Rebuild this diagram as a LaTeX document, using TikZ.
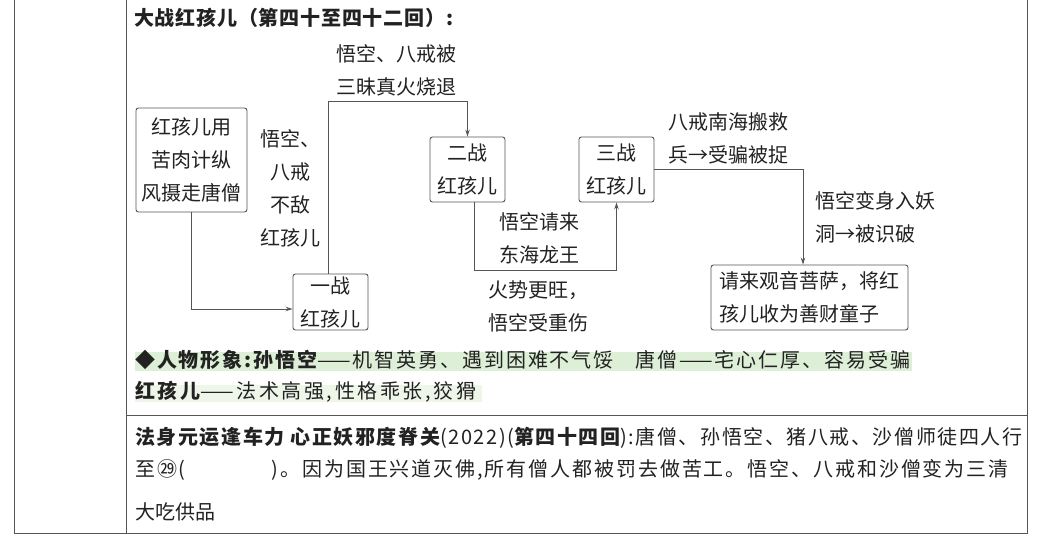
\documentclass[tikz,border=0pt]{standalone}
\usepackage{fontspec}
\setmainfont{Noto Sans CJK SC}
\usetikzlibrary{arrows.meta,calc}
\definecolor{ln}{HTML}{555555}
\definecolor{tx}{HTML}{222222}
\definecolor{hl}{HTML}{DDEFD6}
\definecolor{hlb}{HTML}{EEF6EA}
\begin{document}
\begin{tikzpicture}[x=1pt,y=-1pt,
  every node/.style={text=tx, font=\fontsize{20}{33}\selectfont, inner sep=0pt},
  box/.style={draw=ln, line width=0.9pt, rounded corners=2.5pt, align=center},
  lbl/.style={align=left},
  clbl/.style={align=center},
  conn/.style={draw=ln, line width=0.9pt, -{Stealth[length=7pt,width=4.5pt]}},
  frame/.style={draw=ln, line width=1pt},
  sp/.style={font=\addfontfeatures{LetterSpace=#1}\fontsize{20}{33}\selectfont}]
\useasboundingbox[fill=white] (0,0) rectangle (1042,545);

% frame
\draw[frame] (14,0) -- (14,533) -- (1027,533) -- (1027,0);
\draw[frame] (126,0) -- (126,533);
\draw[frame] (126,415) -- (1027,415);

% highlights
\fill[hl] (135,352) rectangle (912,371);
\fill[hlb] (135,385) rectangle (482,402);

% title
\node[anchor=west, font=\addfontfeatures{LetterSpace=4}\bfseries\fontsize{20}{24}\selectfont] (title) at (134,18) {大战红孩儿（第四十至四十二回）:};

% boxes
\node[box, minimum width=111pt, minimum height=104pt] (A) at (191.5,160) {红孩儿用\\苦肉计纵\\风摄走唐僧};
\node[box, minimum width=75pt, minimum height=56pt] (yi) at (330.5,302) {一战\\红孩儿};
\node[box, minimum width=75pt, minimum height=65pt] (er) at (467.5,169.5) {二战\\红孩儿};
\node[box, minimum width=75pt, minimum height=65pt] (san) at (616.5,169.5) {三战\\红孩儿};
\node[box, align=left, minimum width=197pt, minimum height=65pt] (fin) at (809.5,297.5) {请来观音菩萨，将红\\孩儿收为善财童子\hspace{20pt}};

% connectors
\draw[conn] (A.south) |- ([yshift=-7pt]yi.west);
\draw[conn] ([xshift=-2.5pt]yi.north) -- ++(0,-172) -| (er.north);
\draw[conn] ([xshift=6.5pt]er.south) -- ++(0,68) -| (san.south);
\draw[conn] (san.east) -| ([xshift=-6.5pt]fin.north);

% labels
\node[lbl] (l1) at (396.5,70.5) {悟空、八戒被\\三昧真火烧退};
\node[clbl] (l2) at (290,188.5) {悟空、\\八戒\\不敌\\红孩儿};
\node[lbl] (l3) at (539,238.5) {悟空请来\\东海龙王};
\node[lbl] (l4) at (538,306.5) {火势更旺，\\悟空受重伤};
\node[lbl] (l5) at (728.5,138) {八戒南海搬救\\兵→受骗被捉};
\node[lbl] (l6) at (875,217) {悟空变身入妖\\洞→被识破\hspace{20pt}};

% character traits
\node[anchor=west, sp=9.5] (t1) at (135,360) {{\bfseries ◆人物形象:孙悟空}——机智英勇、遇到困难不气馁\hspace{22pt}唐僧——宅心仁厚、容易受骗};
\node[anchor=west, sp=13] (t2) at (135,392) {{\bfseries 红孩儿}——法术高强,性格乖张,狡猾};

% bottom section
\node[anchor=west, sp=7.8] (b1) at (135,438) {{\bfseries 法身元运逢车力 心正妖邪度脊关}(2022)({\bfseries 第四十四回}):唐僧、孙悟空、猪八戒、沙僧师徒四人行};
\node[anchor=west, sp=9.5] (b2) at (135,470) {至㉙(\hspace{86pt})。因为国王兴道灭佛,所有僧人都被罚去做苦工。悟空、八戒和沙僧变为三清};
\node[anchor=west] (b3) at (135,512) {大吃供品};
\end{tikzpicture}
\end{document}
